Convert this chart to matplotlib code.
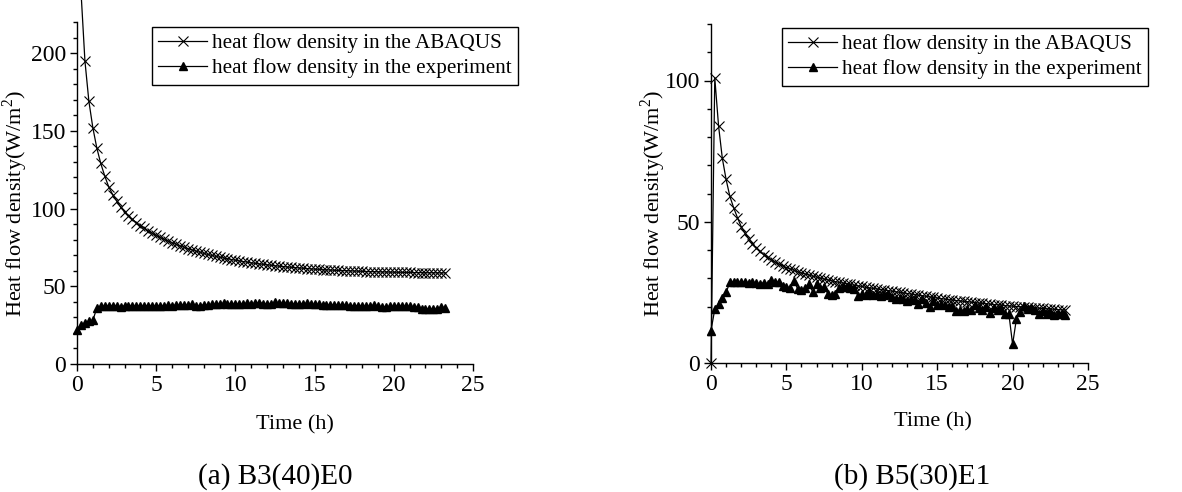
import numpy as np
import matplotlib
matplotlib.use("Agg")
import matplotlib.pyplot as plt
from matplotlib.ticker import MultipleLocator

plt.rcParams['font.family'] = ['Liberation Serif', 'DejaVu Serif']
plt.rcParams['mathtext.fontset'] = 'custom'
plt.rcParams['mathtext.rm'] = 'Liberation Serif'

STEP = 0.25

# (a) B3(40)E0 -- ABAQUS from 0.25 h, experiment from 0 h
abaqus_a = [240, 195, 169, 152, 139, 129, 121, 114, 109, 105,
            101, 98, 95.5, 93, 91, 89, 87.2, 85.6, 84.1, 82.7,
            81.4, 80.2, 79.1, 78.0, 77.0, 76.0, 75.1, 74.2, 73.4, 72.6,
            71.9, 71.2, 70.5, 69.9, 69.3, 68.7, 68.2, 67.7, 67.2, 66.7,
            66.3, 65.9, 65.5, 65.1, 64.7, 64.4, 64.1, 63.8, 63.5, 63.2,
            62.9, 62.7, 62.4, 62.2, 62.0, 61.8, 61.6, 61.4, 61.2, 61.0,
            60.9, 60.7, 60.6, 60.4, 60.3, 60.2, 60.1, 60.0, 59.9, 59.8,
            59.7, 59.6, 59.5, 59.4, 59.4, 59.3, 59.2, 59.2, 59.1, 59.1,
            59.0, 59.0, 58.9, 58.9, 58.8, 58.8, 58.8, 58.7, 58.7, 58.7,
            58.6, 58.6, 58.6]
exp_a = [22, 25, 26.5, 27.5, 28, 36, 37, 37.5, 37.5, 37.5,
         37.5, 36.5, 37.5, 37.5, 37.5, 37.3, 37.5, 37.4, 37.6, 37.5,
         37.4, 37.6, 37.5, 37.7, 37.6, 37.8, 37.7, 38.0, 37.8, 38.3,
         37.2, 37.6, 38.0, 37.9, 38.3, 38.5, 38.6, 39.0, 38.7, 38.9,
         38.5, 38.7, 38.6, 39.2, 38.8, 39.0, 39.5, 38.9, 38.6, 38.9,
         39.6, 39.2, 39.0, 39.1, 38.9, 38.7, 38.6, 38.8, 39.0, 38.5,
         38.3, 38.4, 38.0, 38.1, 37.9, 38.0, 37.8, 37.9, 37.8, 37.6,
         37.5, 37.6, 37.4, 37.3, 37.2, 37.8, 37.1, 36.8, 36.9, 37.0,
         37.2, 37.3, 37.5, 37.3, 37.0, 36.8, 36.5, 35.5, 35.3, 35.6,
         35.4, 35.7, 36.5, 36.2]

# (b) B5(30)E1 -- both from 0 h
abaqus_b = [0, 101, 84, 72.5, 65, 59, 55, 51.5, 48.3, 46,
            44, 42.3, 40.8, 39.5, 38.4, 37.4, 36.5, 35.7, 35.0, 34.4,
            33.8, 33.3, 32.8, 32.3, 31.9, 31.5, 31.1, 30.7, 30.4, 30.0,
            29.7, 29.4, 29.1, 28.8, 28.5, 28.3, 28.0, 27.8, 27.5, 27.3,
            27.1, 26.8, 26.6, 26.4, 26.2, 26.0, 25.8, 25.6, 25.4, 25.2,
            25.0, 24.8, 24.6, 24.4, 24.2, 24.0, 23.8, 23.6, 23.4, 23.2,
            23.0, 22.8, 22.6, 22.4, 22.3, 22.1, 22.0, 21.8, 21.7, 21.5,
            21.4, 21.2, 21.1, 21.0, 20.8, 20.7, 20.6, 20.5, 20.3, 20.2,
            20.1, 20.0, 19.9, 19.8, 19.7, 19.6, 19.5, 19.4, 19.3, 19.2,
            19.1, 19.0, 18.9, 18.8, 18.7]
exp_b = [11.5, 19, 21, 23, 25, 28.5, 28.8, 28.7, 28.5, 28.8,
         28.4, 28.6, 28.3, 28.0, 28.4, 28.1, 29.3, 28.5, 28.8, 27.3,
         27.0, 26.5, 28.9, 26.3, 26.0, 26.4, 27.8, 25.2, 28.0, 26.5,
         27.0, 24.5, 24.0, 24.3, 26.5, 27.0, 26.8, 26.5, 26.2, 23.8,
         24.5, 24.0, 25.0, 24.2, 24.6, 23.8, 24.0, 24.5, 23.5, 22.5,
         23.0, 22.5, 22.0, 22.8, 22.2, 20.8, 22.5, 21.2, 20.0, 21.8,
         20.5, 20.8, 20.5, 19.8, 20.2, 18.5, 18.6, 18.5, 19.0, 18.7,
         20.6, 19.5, 18.8, 19.8, 17.8, 19.5, 18.8, 19.0, 17.5, 17.5,
         6.6, 15.5, 18.0, 20.3, 19.0, 19.3, 18.7, 17.5, 18.4, 17.2,
         18.0, 17.0, 17.5, 17.3, 17.0]

t_abaqus_a = STEP * np.arange(1, len(abaqus_a) + 1)
t_exp_a = STEP * np.arange(len(exp_a))
t_abaqus_b = STEP * np.arange(len(abaqus_b))
t_exp_b = STEP * np.arange(len(exp_b))

lab_abaqus = 'heat flow density in the ABAQUS'
lab_exp = 'heat flow density in the experiment'
ylab = 'Heat flow density(W/m$^2$)'

fig = plt.figure(figsize=(11.82, 4.92), dpi=100)
ax1 = fig.add_axes([77 / 1182, 1 - 364 / 492, 396 / 1182, 342 / 492])
ax2 = fig.add_axes([711 / 1182, 1 - 363 / 492, 377 / 1182, 339 / 492])


def style_axes(ax, ymax, ylab_x, xlab_x, xlab_y):
    for s in ['top', 'right']:
        ax.spines[s].set_visible(False)
    for s in ['left', 'bottom']:
        ax.spines[s].set_linewidth(1.0)
    ax.set_xlim(0, 25)
    ax.set_ylim(0, ymax)
    ax.xaxis.set_major_locator(MultipleLocator(5))
    ax.xaxis.set_minor_locator(MultipleLocator(1))
    ax.yaxis.set_major_locator(MultipleLocator(50))
    ax.yaxis.set_minor_locator(MultipleLocator(10))
    ax.tick_params(which='major', direction='out', length=5, width=1, labelsize=17, pad=3)
    ax.tick_params(which='minor', direction='out', length=3, width=1)
    ax.set_xlabel('Time (h)', fontsize=16)
    ax.set_ylabel(ylab, fontsize=16)
    ax.xaxis.set_label_coords(xlab_x, xlab_y)
    ax.yaxis.set_label_coords(ylab_x, 0.47)


ax1.plot(t_abaqus_a, abaqus_a, color='black', lw=0.9, marker='x', ms=6.5, mew=0.8,
         label=lab_abaqus, clip_on=False)
ax1.plot(t_exp_a, exp_a, color='black', lw=0.9, marker='^', ms=6,
         label=lab_exp, clip_on=False)
style_axes(ax1, 220, -0.118, 0.55, -0.15)

ax2.plot(t_abaqus_b, abaqus_b, color='black', lw=0.9, marker='x', ms=6.5, mew=0.8,
         label=lab_abaqus, clip_on=False)
ax2.plot(t_exp_b, exp_b, color='black', lw=0.9, marker='^', ms=6,
         label=lab_exp, clip_on=False)
style_axes(ax2, 120, -0.113, 0.59, -0.145)

for ax, anchor in [(ax1, (152 / 1182, 1 - 27 / 492)), (ax2, (782 / 1182, 1 - 28 / 492))]:
    leg = ax.legend(loc='upper left', bbox_to_anchor=anchor, bbox_transform=fig.transFigure,
                    fontsize=15.2, frameon=True, fancybox=False, edgecolor='black',
                    framealpha=1, borderaxespad=0, borderpad=0.3, handlelength=2.3,
                    handletextpad=0.25, labelspacing=0.25, numpoints=1)
    leg.get_frame().set_linewidth(1.0)

fig.text(275 / 1182, 1 - 477 / 492, '(a) B3(40)E0', fontsize=21, ha='center', va='center')
fig.text(912 / 1182, 1 - 477 / 492, '(b) B5(30)E1', fontsize=21, ha='center', va='center')

fig.savefig('out.png', dpi=100)
